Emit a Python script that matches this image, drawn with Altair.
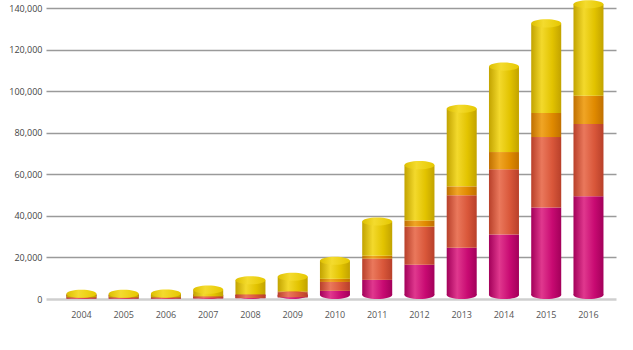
import altair as alt
import pandas as pd

years = [str(y) for y in range(2004, 2017)]
series = ["A", "B", "C", "D"]  # bottom to top
magenta = [200, 200, 200, 300, 400, 800, 3900, 9200, 16500, 24700, 31000, 44000, 49400]
red = [400, 400, 400, 700, 1500, 2500, 4300, 10200, 18300, 25200, 31400, 33900, 34800]
orange = [100, 100, 100, 200, 300, 400, 1500, 1400, 3000, 4300, 8300, 11600, 13600]
yellow = [1800, 1800, 1900, 3300, 6800, 7000, 8700, 16500, 26600, 37300, 41100, 43100, 44000]
y_ticks = [0, 20000, 40000, 60000, 80000, 100000, 120000, 140000]

rows = []
for s_i, (name, vals) in enumerate(zip(series, [magenta, red, orange, yellow])):
    for yr, v in zip(years, vals):
        rows.append({"year": yr, "series": name, "order": s_i, "value": v})
df = pd.DataFrame(rows)


def grad(dark, light, base):
    return alt.Gradient(
        gradient="linear",
        x1=0, x2=1, y1=0, y2=0,
        stops=[
            alt.GradientStop(color=dark, offset=0),
            alt.GradientStop(color=light, offset=0.35),
            alt.GradientStop(color=base, offset=0.7),
            alt.GradientStop(color=dark, offset=1),
        ],
    )


grads = {
    "A": grad("#A3005A", "#E0388E", "#C80A72"),
    "B": grad("#B8402A", "#EA785C", "#D9573A"),
    "C": grad("#C07000", "#F0A525", "#E08A00"),
    "D": grad("#C2A300", "#F3D92C", "#E2C300"),
}
top_grad = alt.Gradient(
    gradient="linear", x1=0, x2=1, y1=0, y2=0,
    stops=[
        alt.GradientStop(color="#DDBF00", offset=0),
        alt.GradientStop(color="#F4DB2E", offset=0.4),
        alt.GradientStop(color="#E6C800", offset=1),
    ],
)

ellipse = "M -1 0 A 1 0.27 0 1 0 1 0 A 1 0.27 0 1 0 -1 0 Z"

x_enc = alt.X(
    "year:O",
    title=None,
    sort=years,
    scale=alt.Scale(paddingInner=0.29, paddingOuter=0.39, align=0.62),
    axis=alt.Axis(
        labelAngle=0, ticks=False, domain=False, labelPadding=11,
        labelFontSize=9, labelColor="#555555", labelFont="Open Sans", grid=False,
    ),
)
y_scale = alt.Scale(domain=[0, 140000], nice=False)
y_axis = alt.Axis(
    values=y_ticks, labelExpr="format(datum.value, ',')", ticks=False, domain=False,
    labelPadding=4, labelFontSize=9, labelColor="#444444", labelFont="Open Sans",
    grid=True,
    gridColor={"condition": {"test": "datum.value === 0", "value": "#cfcfcf"}, "value": "#9a9a9a"},
    gridWidth={"condition": {"test": "datum.value === 0", "value": 2.5}, "value": 1.3},
)

base = alt.Chart(df).transform_stack(
    stack="value", groupby=["year"], as_=["y0", "y1"],
    sort=[alt.SortField("order", order="ascending")],
)

layers = []
# base ellipse (bottom of cylinder)
layers.append(
    base.transform_filter(alt.datum.series == "A").mark_point(
        shape=ellipse, size=900, filled=True, fill=grads["A"], opacity=1, strokeWidth=0, yOffset=-4
    ).encode(x=x_enc, y=alt.Y("y0:Q", scale=y_scale, axis=y_axis, title=None))
)
for s in series:
    kw = {"y2Offset": -4} if s == "A" else {}
    layers.append(
        base.transform_filter(alt.datum.series == s).mark_bar(
            size=30, color=grads[s], **kw
        ).encode(
            x=x_enc,
            y=alt.Y("y1:Q", scale=y_scale, axis=y_axis, title=None),
            y2="y0:Q",
        )
    )
# top ellipse
layers.append(
    base.transform_filter(alt.datum.series == "D").mark_point(
        shape=ellipse, size=900, filled=True, fill=top_grad, opacity=1, strokeWidth=0
    ).encode(x=x_enc, y=alt.Y("y1:Q", scale=y_scale, axis=y_axis, title=None))
)

chart = alt.layer(*layers).properties(
    width=570,
    height=291,
    padding={"left": 46, "top": 8, "right": 17, "bottom": 51},
    autosize=alt.AutoSizeParams(type="none"),
    background="white",
).configure_view(stroke=None)

chart.save("out.html", embed_options={"renderer": "svg", "actions": False})
